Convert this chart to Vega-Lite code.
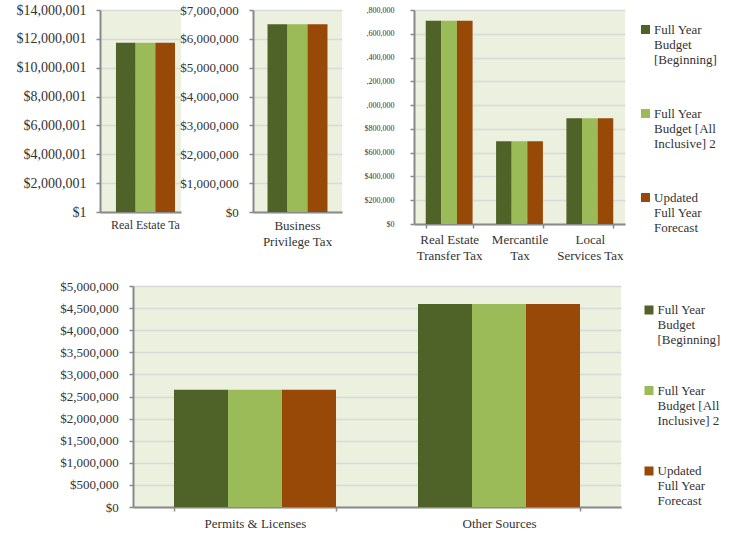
{
  "$schema": "https://vega.github.io/schema/vega-lite/v6.json",
  "padding": {"left": 0, "top": 3, "right": 0, "bottom": 0},
  "datasets": {
    "p1": [
      {"category": "Real Estate Ta", "series": "Full Year Budget [Beginning]", "value": 11730000},
      {"category": "Real Estate Ta", "series": "Full Year Budget [All Inclusive] 2", "value": 11730000},
      {"category": "Real Estate Ta", "series": "Updated Full Year Forecast", "value": 11730000}
    ],
    "p2": [
      {"category": "Business Privilege Tax", "series": "Full Year Budget [Beginning]", "value": 6510000},
      {"category": "Business Privilege Tax", "series": "Full Year Budget [All Inclusive] 2", "value": 6510000},
      {"category": "Business Privilege Tax", "series": "Updated Full Year Forecast", "value": 6510000}
    ],
    "p3": [
      {"category": "Real Estate Transfer Tax", "series": "Full Year Budget [Beginning]", "value": 1710000},
      {"category": "Real Estate Transfer Tax", "series": "Full Year Budget [All Inclusive] 2", "value": 1710000},
      {"category": "Real Estate Transfer Tax", "series": "Updated Full Year Forecast", "value": 1710000},
      {"category": "Mercantile Tax", "series": "Full Year Budget [Beginning]", "value": 695000},
      {"category": "Mercantile Tax", "series": "Full Year Budget [All Inclusive] 2", "value": 695000},
      {"category": "Mercantile Tax", "series": "Updated Full Year Forecast", "value": 695000},
      {"category": "Local Services Tax", "series": "Full Year Budget [Beginning]", "value": 890000},
      {"category": "Local Services Tax", "series": "Full Year Budget [All Inclusive] 2", "value": 890000},
      {"category": "Local Services Tax", "series": "Updated Full Year Forecast", "value": 890000}
    ],
    "p4": [
      {"category": "Permits & Licenses", "series": "Full Year Budget [Beginning]", "value": 2650000},
      {"category": "Permits & Licenses", "series": "Full Year Budget [All Inclusive] 2", "value": 2650000},
      {"category": "Permits & Licenses", "series": "Updated Full Year Forecast", "value": 2650000},
      {"category": "Other Sources", "series": "Full Year Budget [Beginning]", "value": 4590000},
      {"category": "Other Sources", "series": "Full Year Budget [All Inclusive] 2", "value": 4590000},
      {"category": "Other Sources", "series": "Updated Full Year Forecast", "value": 4590000}
    ]
  },
  "vconcat": [
    {
      "bounds": "flush",
      "spacing": 72,
      "resolve": {"scale": {"x": "independent", "y": "independent", "xOffset": "independent", "color": "independent"}, "legend": {"color": "independent"}},
      "hconcat": [
        {
          "width": 81,
          "height": 202,
          "data": {"name": "p1"},
          "mark": {"type": "bar", "clip": true},
          "encoding": {
            "x": {"field": "category", "type": "nominal", "scale": {"paddingInner": 0, "paddingOuter": 0.186, "align": 0.727},
                  "axis": {"title": null, "labelFontSize": 12, "labelPadding": 7, "ticks": false, "labelAngle": 0}},
            "xOffset": {"field": "series", "type": "nominal", "sort": null, "scale": {"domain": ["Full Year Budget [Beginning]", "Full Year Budget [All Inclusive] 2", "Updated Full Year Forecast"], "paddingInner": 0, "paddingOuter": 0}},
            "y": {"field": "value", "type": "quantitative", "scale": {"domain": [1, 14000001], "nice": false, "zero": false},
                  "axis": {"title": null, "values": [1, 2000001, 4000001, 6000001, 8000001, 10000001, 12000001, 14000001], "format": "$,.0f", "labelFontSize": 14, "labelPadding": 10, "minExtent": 100}},
            "color": {"field": "series", "type": "nominal", "scale": {"domain": ["Full Year Budget [Beginning]", "Full Year Budget [All Inclusive] 2", "Updated Full Year Forecast"], "range": ["#4F6228", "#9BBB59", "#984807"]}, "legend": null}
          }
        },
        {
          "width": 89,
          "height": 202,
          "data": {"name": "p2"},
          "mark": {"type": "bar"},
          "encoding": {
            "x": {"field": "category", "type": "nominal", "scale": {"paddingInner": 0, "paddingOuter": 0.242},
                  "axis": {"title": null, "labelFontSize": 13, "labelPadding": 7, "ticks": false, "labelAngle": 0, "labelLineHeight": 16,
                           "labelExpr": "datum.label == 'Business Privilege Tax' ? ['Business', 'Privilege Tax'] : datum.label"}},
            "xOffset": {"field": "series", "type": "nominal", "sort": null, "scale": {"domain": ["Full Year Budget [Beginning]", "Full Year Budget [All Inclusive] 2", "Updated Full Year Forecast"], "paddingInner": 0, "paddingOuter": 0}},
            "y": {"field": "value", "type": "quantitative", "scale": {"domain": [0, 7000000], "nice": false},
                  "axis": {"title": null, "values": [0, 1000000, 2000000, 3000000, 4000000, 5000000, 6000000, 7000000], "format": "$,.0f", "labelFontSize": 13, "labelPadding": 10.7}},
            "color": {"field": "series", "type": "nominal", "scale": {"domain": ["Full Year Budget [Beginning]", "Full Year Budget [All Inclusive] 2", "Updated Full Year Forecast"], "range": ["#4F6228", "#9BBB59", "#984807"]}, "legend": null}
          }
        },
        {
          "width": 211,
          "height": 214,
          "data": {"name": "p3"},
          "mark": {"type": "bar"},
          "encoding": {
            "x": {"field": "category", "type": "nominal", "sort": null, "scale": {"paddingInner": 0.334, "paddingOuter": 0.167},
                  "axis": {"title": null, "labelFontSize": 13, "labelPadding": 5, "tickBand": "extent", "labelAngle": 0, "labelLineHeight": 16,
                           "labelExpr": "datum.label == 'Real Estate Transfer Tax' ? ['Real Estate', 'Transfer Tax'] : datum.label == 'Mercantile Tax' ? ['Mercantile', 'Tax'] : datum.label == 'Local Services Tax' ? ['Local', 'Services Tax'] : datum.label"}},
            "xOffset": {"field": "series", "type": "nominal", "sort": null, "scale": {"domain": ["Full Year Budget [Beginning]", "Full Year Budget [All Inclusive] 2", "Updated Full Year Forecast"], "paddingInner": 0, "paddingOuter": 0}},
            "y": {"field": "value", "type": "quantitative", "scale": {"domain": [0, 1800000], "nice": false},
                  "axis": {"title": null, "values": [0, 200000, 400000, 600000, 800000, 1000000, 1200000, 1400000, 1600000, 1800000], "labelFontSize": 8, "labelPadding": 16,
                           "labelExpr": "datum.value >= 1000000 ? slice(format(datum.value, '$,.0f'), 2) : format(datum.value, '$,.0f')"}},
            "color": {"field": "series", "type": "nominal", "scale": {"domain": ["Full Year Budget [Beginning]", "Full Year Budget [All Inclusive] 2", "Updated Full Year Forecast"], "range": ["#4F6228", "#9BBB59", "#984807"]},
                      "legend": {"title": null, "orient": "right", "padding": 13, "offset": 1, "rowPadding": 40, "labelFontSize": 13, "labelOffset": 2, "labelBaseline": "middle",
                                 "symbolType": "square", "symbolSize": 81, "symbolStrokeWidth": 0,
                                 "labelExpr": "datum.label == 'Full Year Budget [Beginning]' ? ['Full Year', 'Budget', '[Beginning]'] : datum.label == 'Full Year Budget [All Inclusive] 2' ? ['Full Year', 'Budget [All', 'Inclusive] 2'] : ['Updated', 'Full Year', 'Forecast']"}}
          }
        }
      ]
    },
    {
      "bounds": "flush",
      "spacing": 32,
      "resolve": {"scale": {"x": "independent", "y": "independent", "xOffset": "independent", "color": "independent"}, "legend": {"color": "independent"}},
      "hconcat": [
        {
          "width": 1,
          "height": 221,
          "data": {"name": "p4"},
          "view": {"fill": "white", "fillOpacity": 0, "stroke": null},
          "mark": {"type": "bar", "opacity": 0},
          "encoding": {}
        },
        {
          "width": 488,
          "height": 221,
          "data": {"name": "p4"},
          "mark": {"type": "bar"},
          "encoding": {
            "x": {"field": "category", "type": "nominal", "sort": null, "scale": {"paddingInner": 0.336, "paddingOuter": 0.168},
                  "axis": {"title": null, "labelFontSize": 13, "labelPadding": 6.3, "tickBand": "extent", "labelAngle": 0}},
            "xOffset": {"field": "series", "type": "nominal", "sort": null, "scale": {"domain": ["Full Year Budget [Beginning]", "Full Year Budget [All Inclusive] 2", "Updated Full Year Forecast"], "paddingInner": 0, "paddingOuter": 0}},
            "y": {"field": "value", "type": "quantitative", "scale": {"domain": [0, 5000000], "nice": false},
                  "axis": {"title": null, "values": [0, 500000, 1000000, 1500000, 2000000, 2500000, 3000000, 3500000, 4000000, 4500000, 5000000], "format": "$,.0f", "labelFontSize": 13, "labelPadding": 10.7}},
            "color": {"field": "series", "type": "nominal", "scale": {"domain": ["Full Year Budget [Beginning]", "Full Year Budget [All Inclusive] 2", "Updated Full Year Forecast"], "range": ["#4F6228", "#9BBB59", "#984807"]},
                      "legend": {"title": null, "orient": "right", "padding": 17.5, "offset": 3.5, "rowPadding": 36.5, "labelFontSize": 13, "labelOffset": 2, "labelBaseline": "middle",
                                 "symbolType": "square", "symbolSize": 81, "symbolStrokeWidth": 0,
                                 "labelExpr": "datum.label == 'Full Year Budget [Beginning]' ? ['Full Year', 'Budget', '[Beginning]'] : datum.label == 'Full Year Budget [All Inclusive] 2' ? ['Full Year', 'Budget [All', 'Inclusive] 2'] : ['Updated', 'Full Year', 'Forecast']"}}
          }
        }
      ]
    }
  ],
  "spacing": 18,
  "resolve": {"scale": {"x": "independent", "y": "independent", "xOffset": "independent", "color": "independent"}, "legend": {"color": "independent"}},
  "config": {
    "font": "Liberation Serif",
    "view": {"fill": "#EBF1DE", "stroke": null},
    "axis": {"domainColor": "#898989", "domainWidth": 2, "tickColor": "#898989", "tickWidth": 1.5, "tickSize": 4,
             "gridColor": "#D9D9D9", "gridWidth": 1.5, "labelColor": "#333333", "labelFont": "Liberation Serif"},
    "axisX": {"grid": false},
    "legend": {"labelColor": "#333333", "labelFont": "Liberation Serif"}
  }
}
